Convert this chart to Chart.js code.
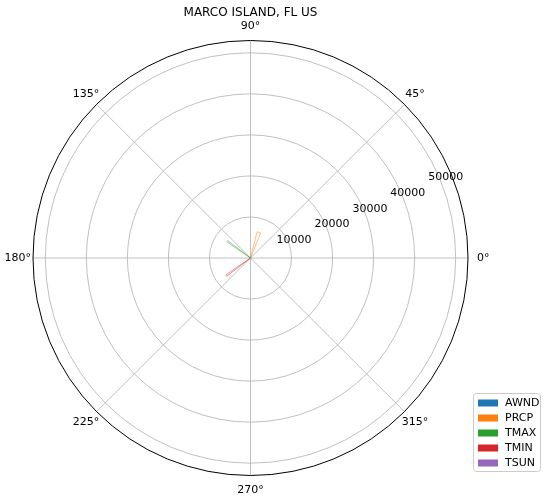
<!DOCTYPE html><html><head><script src="https://cdn.jsdelivr.net/npm/chart.js"></script>
<style>body{margin:0;background:#fff}#w{width:547px;height:503px}</style></head><body><div id="w"><canvas id="c"></canvas></div>
<script>
const categories=['AWND','PRCP','TMAX','TMIN','TSUN'];
const values=[150,6600,7000,7300,0];
const anglesDeg=[0,72,144,216,288];
const widthsDeg=[6,8,3,3,3];
const colors=['#1f77b4','#ff7f0e','#2ca02c','#d62728','#9467bd'];
const rTicks=[10000,20000,30000,40000,50000];
const angleTicks=[0,45,90,135,180,225,270,315];
const RMAX=53000;
const rad=d=>d*Math.PI/180;
const datasets=categories.map((c,i)=>{
  const a=rad(anglesDeg[i]),w=rad(widthsDeg[i])/2,r=values[i];
  return {label:c,data:[{x:0,y:0},{x:r*Math.cos(a-w),y:r*Math.sin(a-w)},{x:r*Math.cos(a+w),y:r*Math.sin(a+w)},{x:0,y:0}],
    showLine:true,fill:true,backgroundColor:colors[i],borderColor:colors[i],borderWidth:0.5,pointRadius:0,tension:0};
});
const polarGrid={id:'pg',beforeDatasetsDraw(ch){
  const {ctx,scales:{x,y}}=ch;const cx=x.getPixelForValue(0),cy=y.getPixelForValue(0);
  const px=v=>x.getPixelForValue(v)-cx;
  ctx.save();ctx.strokeStyle='#b0b0b0';ctx.lineWidth=0.8;
  rTicks.forEach(t=>{ctx.beginPath();ctx.arc(cx,cy,px(t),0,2*Math.PI);ctx.stroke();});
  angleTicks.forEach(d=>{ctx.beginPath();ctx.moveTo(cx,cy);ctx.lineTo(x.getPixelForValue(RMAX*Math.cos(rad(d))),y.getPixelForValue(RMAX*Math.sin(rad(d))));ctx.stroke();});
  ctx.restore();},
 afterDatasetsDraw(ch){
  const {ctx,scales:{x,y}}=ch;const cx=x.getPixelForValue(0),cy=y.getPixelForValue(0);
  const R=x.getPixelForValue(RMAX)-cx;
  ctx.save();ctx.strokeStyle='#000';ctx.lineWidth=1;ctx.beginPath();ctx.arc(cx,cy,R,0,2*Math.PI);ctx.stroke();
  ctx.fillStyle='#000';ctx.font='11px "DejaVu Sans"';ctx.textAlign='center';ctx.textBaseline='middle';
  angleTicks.forEach(d=>{const rr=RMAX*1.07;ctx.fillText(d+'°',x.getPixelForValue(rr*Math.cos(rad(d))),y.getPixelForValue(rr*Math.sin(rad(d))));});
  rTicks.forEach(t=>{const a=rad(22.5);ctx.fillText(String(t),x.getPixelForValue((t+1500)*Math.cos(a)),y.getPixelForValue((t+1500)*Math.sin(a)));});
  ctx.font='12px "DejaVu Sans"';ctx.fillText('MARCO ISLAND, FL US',cx,13);
  // legend
  ctx.strokeStyle='#ccc';ctx.lineWidth=1;ctx.fillStyle='#fff';
  ctx.beginPath();ctx.roundRect(473.5,393.5,67,78,3);ctx.fill();ctx.stroke();
  ctx.textAlign='left';ctx.font='11px "DejaVu Sans"';
  categories.forEach((c,i)=>{const yy=403+i*15;ctx.fillStyle=colors[i];ctx.fillRect(478,yy-3.5,20,7);ctx.fillStyle='#000';ctx.fillText(c,505,yy);});
  ctx.restore();}};
new Chart(document.getElementById('c'),{type:'scatter',data:{datasets},plugins:[polarGrid],
 options:{responsive:true,maintainAspectRatio:false,animation:false,
  layout:{padding:{left:33,right:79,top:41,bottom:28}},
  plugins:{legend:{display:false},tooltip:{enabled:false}},
  scales:{x:{display:false,min:-RMAX,max:RMAX},y:{display:false,min:-RMAX,max:RMAX}}}});
</script></body></html>
